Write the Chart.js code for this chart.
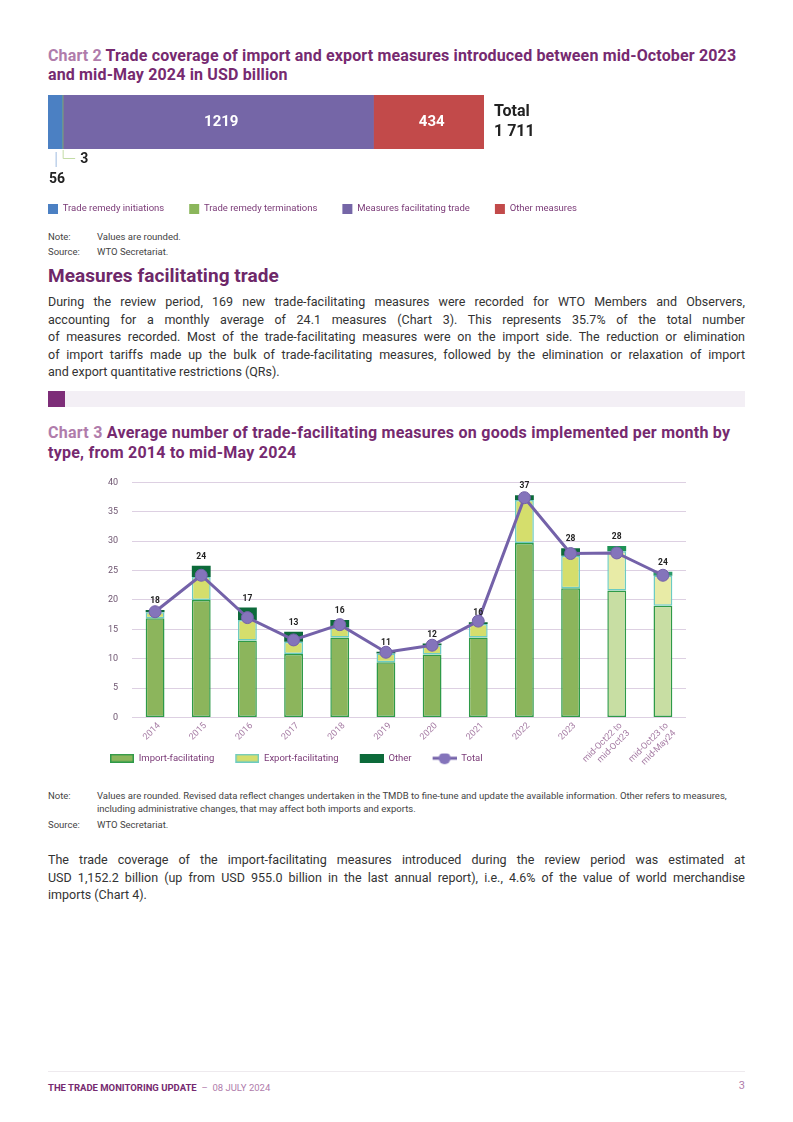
<!DOCTYPE html>
<html><head><meta charset="utf-8">
<script src="https://cdn.jsdelivr.net/npm/chart.js@4.4.1/dist/chart.umd.min.js"></script>
<style>
html,body{margin:0;padding:0;background:#fff;}
body{width:793px;height:1122px;position:relative;font-family:Roboto,"Liberation Sans",sans-serif;color:#333;overflow:hidden}
.abs{position:absolute}
.title{left:48px;font-weight:700;font-size:16px;line-height:19.5px;color:#762a70;letter-spacing:0.15px;white-space:nowrap}
.title .lbl{color:#b07cab}
.note{left:48px;font-size:9.5px;line-height:13px;color:#444;width:720px;white-space:nowrap}
.note .k{position:absolute;left:0;top:0}
.note .v{margin-left:49px}
.para{left:48px;width:697px;font-size:12.5px;line-height:17.5px;color:#333}
.para div{text-align:justify;text-align-last:justify}
.para div.last{text-align-last:left}
h2{margin:0;position:absolute;left:48px;top:264px;font-size:19px;line-height:24px;font-weight:700;color:#6e2869;letter-spacing:0.05px}
</style></head>
<body>
<div class="abs title" style="top:45.5px">
  <div><span class="lbl">Chart 2</span> Trade coverage of import and export measures introduced between mid-October 2023</div>
  <div>and mid-May 2024 in USD billion</div>
</div>
<canvas id="c2" class="abs" style="left:23px;top:88px" width="600" height="136"></canvas>
<div class="abs note" style="top:229.5px"><span class="k">Note:</span><div class="v">Values are rounded.</div></div>
<div class="abs note" style="top:244.5px"><span class="k">Source:</span><div class="v">WTO Secretariat.</div></div>

<h2>Measures facilitating trade</h2>
<div class="abs para" style="top:293px">
  <div>During the review period, 169 new trade-facilitating measures were recorded for WTO Members and Observers,</div>
  <div>accounting for a monthly average of 24.1 measures (Chart 3). This represents 35.7% of the total number</div>
  <div>of measures recorded. Most of the trade-facilitating measures were on the import side. The reduction or elimination</div>
  <div>of import tariffs made up the bulk of trade-facilitating measures, followed by the elimination or relaxation of import</div>
  <div class="last">and export quantitative restrictions (QRs).</div>
</div>

<div class="abs" style="left:48px;top:391px;width:697px;height:16px;background:#f3eff5"></div>
<div class="abs" style="left:48px;top:391px;width:17px;height:16px;background:#7d2d78"></div>

<div class="abs title" style="top:423px;letter-spacing:0.25px">
  <div><span class="lbl">Chart 3</span> Average number of trade-facilitating measures on goods implemented per month by</div>
  <div>type, from 2014 to mid-May 2024</div>
</div>
<canvas id="c3" class="abs" style="left:80px;top:463px" width="640" height="323"></canvas>

<div class="abs note" style="top:788.5px"><span class="k">Note:</span><div class="v">Values are rounded. Revised data reflect changes undertaken in the TMDB to fine-tune and update the available information. Other refers to measures,<br>including administrative changes, that may affect both imports and exports.</div></div>
<div class="abs note" style="top:817.5px"><span class="k">Source:</span><div class="v">WTO Secretariat.</div></div>

<div class="abs para" style="top:851px">
  <div>The trade coverage of the import-facilitating measures introduced during the review period was estimated at</div>
  <div>USD 1,152.2 billion (up from USD 955.0 billion in the last annual report), i.e., 4.6% of the value of world merchandise</div>
  <div class="last">imports (Chart 4).</div>
</div>

<div class="abs" style="left:48px;top:1071px;width:697px;height:1px;background:#eeeaee"></div>
<div class="abs" style="left:48px;top:1080.5px;font-size:9.5px;line-height:13px;white-space:nowrap"><span style="font-weight:700;color:#762a70">THE TRADE MONITORING UPDATE</span><span style="color:#b07cab"> &nbsp;–&nbsp; 08 JULY 2024</span></div>
<div class="abs" style="left:700px;width:45px;text-align:right;top:1079px;font-size:11px;line-height:14px;color:#b07cab">3</div>

<script>
// ---------- Chart 2 data ----------
const coverageLabels = ['Trade remedy initiations','Trade remedy terminations','Measures facilitating trade','Other measures'];
const coverageValues = [56, 3, 1219, 434];
const coverageColors = ['#4b80c3','#8bb65b','#7566a7','#c24a4a'];
const coverageTotalLabel = '1 711';

// ---------- Chart 3 data ----------
const periods = ['2014','2015','2016','2017','2018','2019','2020','2021','2022','2023',['mid-Oct22 to','mid-Oct23'],['mid-Oct23 to','mid-May24']];
const importFacilitating = [16.9, 20.0, 13.1, 10.8, 13.6, 9.4, 10.7, 13.6, 29.7, 22.0, 21.6, 19.0];
const exportFacilitating = [1.0, 3.9, 3.5, 2.1, 1.7, 1.5, 1.6, 2.3, 7.3, 5.5, 6.7, 5.1];
const otherMeasures      = [0.4, 1.9, 2.1, 1.7, 1.3, 0.3, 0.3, 0.3, 0.8, 1.3, 0.9, 0.7];
const totalMeasures      = [18.0, 24.2, 17.0, 13.2, 15.8, 11.1, 12.3, 16.4, 37.4, 27.9, 28.0, 24.2];
const yTicks = [0,5,10,15,20,25,30,35,40];

const FONT = 'Roboto, "Liberation Sans", sans-serif';

// ---------- Chart 2 ----------
const coveragePlugin = {
  id:'coverageLabels',
  afterDatasetsDraw(chart){
    const ctx = chart.ctx, a = chart.chartArea;
    const el = i => chart.getDatasetMeta(i).data[0];
    ctx.save();
    ctx.font = '700 15px ' + FONT; ctx.fillStyle = '#fff';
    ctx.textAlign = 'center'; ctx.textBaseline = 'middle';
    [2,3].forEach(i => { const b = el(i); ctx.fillText(String(coverageValues[i]), (b.base + b.x)/2 + 3, b.y); });
    const b0 = el(0), c0 = (b0.base + b0.x)/2 + 1;
    ctx.strokeStyle = '#9fbbe0'; ctx.lineWidth = 1;
    ctx.beginPath(); ctx.moveTo(c0, a.bottom + 3); ctx.lineTo(c0, a.bottom + 18); ctx.stroke();
    ctx.fillStyle = '#222'; ctx.textAlign = 'left';
    ctx.font = '700 14px ' + FONT;
    ctx.fillText(String(coverageValues[0]), b0.base + 1, a.bottom + 30);
    const b1 = el(1), c1 = (b1.base + b1.x)/2 + 0.5;
    ctx.strokeStyle = '#c3dca6';
    ctx.beginPath(); ctx.moveTo(c1, a.bottom + 1); ctx.lineTo(c1, a.bottom + 9.5); ctx.lineTo(c1 + 12, a.bottom + 9.5); ctx.stroke();
    ctx.fillText(String(coverageValues[1]), c1 + 17, a.bottom + 10);
    ctx.font = '700 16px ' + FONT;
    ctx.fillText('Total', a.right + 10, a.top + 17);
    ctx.fillText(coverageTotalLabel, a.right + 10, a.top + 37);
    ctx.restore();
  }
};

new Chart(document.getElementById('c2'), {
  type:'bar',
  data:{
    labels:[''],
    datasets: coverageLabels.map((l,i)=>({label:l, data:[coverageValues[i]], backgroundColor:coverageColors[i], borderWidth:0, barPercentage:1, categoryPercentage:1}))
  },
  options:{
    indexAxis:'y', responsive:false, animation:false,
    layout:{padding:{top:7,left:0,right:0,bottom:0}},
    scales:{
      x:{stacked:true, min:0, max:coverageValues.reduce((s,v)=>s+v,0), display:true,
         grid:{display:false}, border:{display:false}, ticks:{display:false},
         afterFit(s){ s.height = 30; }},
      y:{stacked:true, display:true, grid:{display:false}, border:{display:false}, ticks:{display:false},
         afterFit(s){ s.width = 25; }},
      yRight:{type:'linear', position:'right', display:true, grid:{display:false}, border:{display:false}, ticks:{display:false},
         afterFit(s){ s.width = 139; }}
    },
    plugins:{
      tooltip:{enabled:false},
      legend:{display:true, position:'bottom', align:'start',
        labels:{boxWidth:10, boxHeight:10, padding:25, color:'#7a3a77', font:{family:FONT, size:9.5}}}
    }
  },
  plugins:[coveragePlugin]
});

// ---------- Chart 3 ----------
const n = periods.length;
const shade = (normal, light) => periods.map((p,i) => i < n-2 ? normal : light);
const importColors = shade('#8cb55c', '#c8dea3');
const exportColors = shade('#d5de6c', '#e8eba6');
const otherColors  = periods.map((p,i)=> i < n-2 ? '#0c6a3a' : (i === n-2 ? '#1f9256' : '#2a9a6a'));

const GAP = 21;
function legendIcon(fill, stroke){
  const c = document.createElement('canvas'); c.width = GAP + 24; c.height = 9;
  const g = c.getContext('2d');
  g.fillStyle = fill; g.fillRect(GAP,0,24,9);
  g.strokeStyle = stroke; g.lineWidth = 1.5; g.strokeRect(GAP + 0.75,0.75,22.5,7.5);
  return c;
}
function lineIcon(){
  const c = document.createElement('canvas'); c.width = GAP + 24; c.height = 14;
  const g = c.getContext('2d');
  g.strokeStyle = '#7462a9'; g.lineWidth = 3;
  g.beginPath(); g.moveTo(GAP,7); g.lineTo(GAP + 24,7); g.stroke();
  g.fillStyle = '#8474bb'; g.beginPath(); g.arc(GAP + 12,7,6,0,Math.PI*2); g.fill();
  return c;
}
const icons = [legendIcon('#8cb55c','#2e9a48'), legendIcon('#d5de6c','#6ccbc2'), legendIcon('#0c6a3a','#0c6a3a'), lineIcon()];

const totalLabelPlugin = {
  id:'totalLabels',
  afterDatasetsDraw(chart){
    const ctx = chart.ctx;
    const metas = [0,1,2].map(i => chart.getDatasetMeta(i));
    ctx.save();
    ctx.font = '700 8.5px ' + FONT; ctx.fillStyle = '#222';
    ctx.textAlign = 'center'; ctx.textBaseline = 'middle';
    totalMeasures.forEach((t,i) => {
      const top = Math.min(...metas.map(m => m.data[i].y));
      ctx.fillText(String(Math.round(t)), metas[0].data[i].x, top - 9);
    });
    ctx.restore();
  }
};
// lets the legend row sit beside the tall rotated period labels, as in the original
const legendLift = { id:'legendLift', afterLayout(chart){ const L = chart.legend; L.top -= 12; L.bottom -= 12; } };

new Chart(document.getElementById('c3'), {
  type:'bar',
  data:{
    labels: periods,
    datasets:[
      {label:'Import-facilitating', data:importFacilitating, backgroundColor:importColors, borderColor:'#2e9a48', borderWidth:1.5, borderSkipped:false, stack:'s', categoryPercentage:0.8, barPercentage:0.51},
      {label:'Export-facilitating', data:exportFacilitating, backgroundColor:exportColors, borderColor:'#6ccbc2', borderWidth:1.5, borderSkipped:false, stack:'s', categoryPercentage:0.8, barPercentage:0.51},
      {label:'Other', data:otherMeasures, backgroundColor:otherColors, borderColor:otherColors, borderWidth:0, stack:'s', categoryPercentage:0.8, barPercentage:0.51},
      {type:'line', label:'Total', data:totalMeasures, stack:'t', order:-1, borderColor:'#7462a9', borderWidth:3,
       pointRadius:6, pointBackgroundColor:'#8474bb', pointBorderColor:'#7462a9', pointBorderWidth:1, tension:0, fill:false}
    ]
  },
  options:{
    responsive:false, animation:false,
    layout:{padding:{top:5,left:9,right:34,bottom:1}},
    scales:{
      x:{stacked:true, grid:{display:false}, border:{display:false},
         ticks:{color:'#a67ca4', font:{family:FONT, size:9}, maxRotation:45, minRotation:45, padding:-5, labelOffset:4, autoSkip:false},
         afterFit(s){ s.height = 48; }},
      y:{stacked:true, min:0, max:40,
         afterBuildTicks(s){ s.ticks = yTicks.map(v=>({value:v})); },
         grid:{color:'#ddd0e2', drawTicks:false, lineWidth:1}, border:{display:false},
         ticks:{color:'#6e5570', font:{family:FONT, size:9}, padding:14},
         afterFit(s){ s.width = 43; }}
    },
    plugins:{
      tooltip:{enabled:false},
      legend:{display:true, position:'bottom', align:'start',
        labels:{usePointStyle:true, pointStyleWidth:GAP + 24, padding:0, color:'#7a3a77', font:{family:FONT, size:9.5},
          sort:(a,b)=>a.datasetIndex-b.datasetIndex,
          generateLabels(chart){
            const items = Chart.defaults.plugins.legend.labels.generateLabels(chart);
            items.forEach(it => { it.pointStyle = icons[it.datasetIndex]; });
            return items;
          }}}
    }
  },
  plugins:[totalLabelPlugin, legendLift]
});
</script>
</body></html>
